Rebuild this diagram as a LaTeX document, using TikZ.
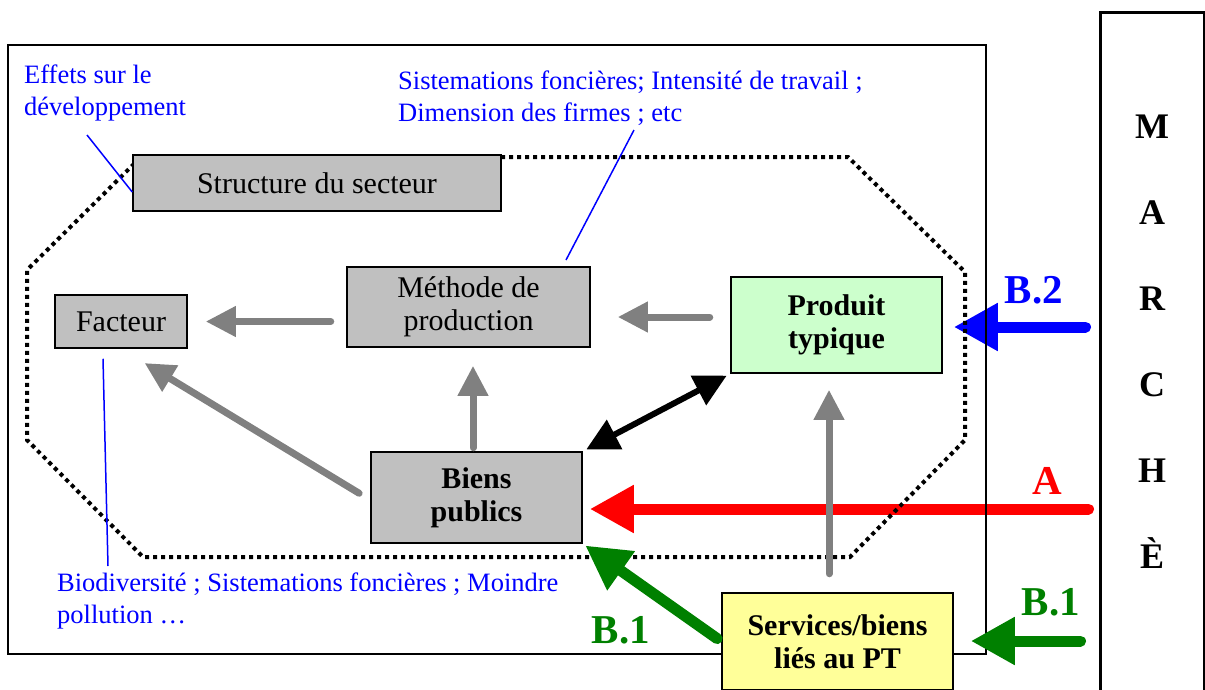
\documentclass[tikz,border=0pt]{standalone}
\usepackage{fontspec}
\setmainfont{Liberation Serif}
\usetikzlibrary{arrows.meta,backgrounds}
\definecolor{boxgray}{HTML}{C0C0C0}
\definecolor{arrowgray}{HTML}{808080}
\definecolor{ptgreen}{HTML}{CCFFCC}
\definecolor{ptyellow}{HTML}{FFFF99}
\definecolor{darkgreen}{HTML}{008000}

\begin{document}
\begin{tikzpicture}[x=1pt, y=-1pt,
    box/.style={draw, line width=1.5pt, fill=boxgray, inner sep=0pt, align=center, font=\fontsize{30}{33}\selectfont},
    boldbox/.style={box, font=\fontsize{30}{33}\selectfont\bfseries},
    note/.style={text=blue, anchor=north west, inner sep=0pt, align=left, font=\fontsize{26.5}{32}\selectfont},
    noteline/.style={blue, line width=1.5pt},
    grayarrow/.style={arrowgray, line width=7pt, line cap=round, -{Triangle[length=30pt, width=29pt]}},
    bigarrow/.style={line width=11pt, line cap=round, -{Triangle[length=44pt, width=45pt]}},
    biglabel/.style={anchor=base, font=\fontsize{41}{41}\selectfont\bfseries}
]

\useasboundingbox (0,0) rectangle (1205,689);

\draw[line width=2pt] (8,45) rectangle (986,654);
\draw[line width=4pt, dash pattern=on 4pt off 4pt] (501,157) -- (848,157) -- (965,272) -- (965,440) -- (850,557) -- (143,557) -- (27,440) -- (27,270) -- (141,157) -- cycle;

\node[draw, line width=3pt, minimum width=104pt, minimum height=700pt, inner sep=0pt] (marche) at (1152,362) {};
\foreach \letter [count=\i] in {M,A,R,C,H,È}
    \node[anchor=base, font=\fontsize{36}{36}\selectfont\bfseries] (marche-\i) at (1152,{52+86*\i}) {\letter};

\node[box, minimum width=368pt, minimum height=56pt] (struct) at (317,183) {Structure du secteur};
\node[box, minimum width=243pt, minimum height=80pt] (meth) at (468.5,307) {Méthode de\\production};
\node[box, minimum width=132pt, minimum height=53pt] (fact) at (121,321.5) {Facteur};
\node[boldbox, fill=ptgreen, minimum width=211pt, minimum height=96pt] (prod) at (836.5,325) {Produit\\typique};
\node[boldbox, minimum width=211pt, minimum height=91pt] (biens) at (476.5,497.5) {Biens\\publics};
\node[boldbox, fill=ptyellow, minimum width=231pt, minimum height=97pt] (serv) at (837.5,641.5) {Services/biens\\liés au PT};

\node[note] (effets) at (24,65) {Effets sur le\\développement};
\node[note] (sistem) at (398,71) {Sistemations foncières; Intensité de travail ;\\Dimension des firmes ; etc};
\node[note] (biodiv) at (57,573) {Biodiversité ; Sistemations foncières ; Moindre\\pollution …};

\draw[noteline] (87,135) -- (struct.west |- 0,192);
\draw[noteline] (634,130) -- (566,260);
\draw[noteline] (fact.south -| 103,0) ++(0,10) -- (108,566);

\coordinate (tailA) at (marche.west |- 0,509);
\coordinate (tailB2) at (marche.west |- 0,327);
\coordinate (tailB1) at (marche.west |- 0,641);

\begin{scope}[on background layer]
\draw[bigarrow, red, shorten <=10pt, shorten >=7pt] (tailA) -- (biens.east |- tailA);
\draw[bigarrow, blue, shorten <=13pt, shorten >=11pt] (tailB2) -- (prod.east |- tailB2);
\end{scope}

\draw[grayarrow, shorten <=15.5pt, shorten >=18pt] (meth.west |- fact.east) -- (fact.east);
\draw[grayarrow, shorten <=20.5pt, shorten >=27pt] (prod.west |- 0,317) -- (meth.east |- 0,317);
\draw[grayarrow, shorten <=3.5pt, shorten >=18pt] (biens.north -| 473,0) -- (meth.south -| 473,0);
\draw[grayarrow, shorten <=13pt, shorten >=27.6pt] (biens.west |- 0,500) -- (fact.south);
\draw[grayarrow, shorten <=18.5pt, shorten >=16pt] (serv.north -| 829,0) -- (prod.south -| 829,0);

\draw[line width=6pt, {Triangle[length=32pt, width=32pt]}-{Triangle[length=32pt, width=32pt]}, shorten <=4pt, shorten >=4pt] (biens.north east) -- (prod.south west);

\draw[bigarrow, darkgreen, shorten <=18pt, shorten >=17pt] (tailB1) -- (serv.east |- tailB1);
\draw[bigarrow, darkgreen, shorten <=5pt, shorten >=3pt] (serv.west) -- (biens.south east);

\node[biglabel, red] (labelA) at (1047,494) {A};
\node[biglabel, blue] (labelB2) at (1034,303) {B.2};
\node[biglabel, darkgreen] (labelB1r) at (1051,615) {B.1};
\node[biglabel, darkgreen] (labelB1l) at (621,643) {B.1};

\end{tikzpicture}
\end{document}
